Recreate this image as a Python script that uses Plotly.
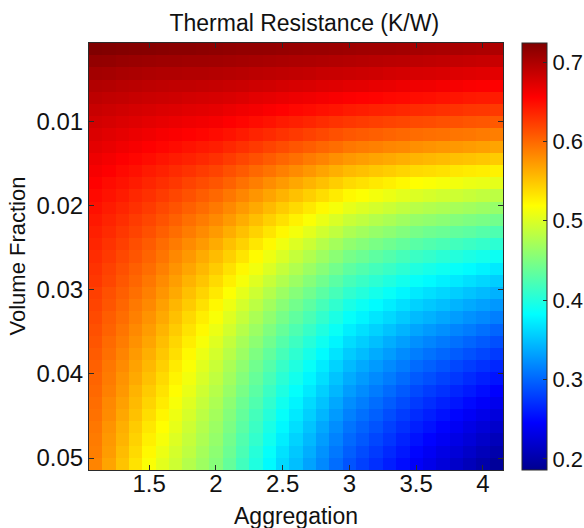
import plotly.graph_objects as go

# Aggregation (x) and volume fraction (y) sample points
aggregation = [1.1, 1.2, 1.3, 1.4, 1.5, 1.6, 1.7, 1.8, 1.9, 2.0, 2.1, 2.2, 2.3, 2.4, 2.5, 2.6,
               2.7, 2.8, 2.9, 3.0, 3.1, 3.2, 3.3, 3.4, 3.5, 3.6, 3.7, 3.8, 3.9, 4.0, 4.1]

volume_fraction = [0.00140, 0.00285, 0.00430, 0.00575, 0.00720, 0.00865, 0.01010, 0.01155,
                   0.01300, 0.01445, 0.01590, 0.01735, 0.01880, 0.02025, 0.02170, 0.02315,
                   0.02460, 0.02605, 0.02750, 0.02895, 0.03040, 0.03185, 0.03330, 0.03475,
                   0.03620, 0.03765, 0.03910, 0.04055, 0.04200, 0.04345, 0.04490, 0.04635,
                   0.04780, 0.04925, 0.05070]

# Thermal resistance (K/W), one row per volume fraction
resistance = [
    [0.724,0.723,0.722,0.721,0.720,0.719,0.718,0.718,0.717,0.716,0.715,0.714,0.714,0.713,0.712,0.711,0.710,0.710,0.709,0.708,0.707,0.706,0.706,0.705,0.704,0.703,0.702,0.702,0.701,0.700,0.699],
    [0.714,0.713,0.711,0.710,0.709,0.708,0.708,0.707,0.707,0.706,0.705,0.704,0.703,0.702,0.701,0.700,0.699,0.698,0.697,0.696,0.695,0.694,0.693,0.692,0.691,0.690,0.689,0.688,0.687,0.686,0.685],
    [0.705,0.704,0.702,0.701,0.699,0.698,0.698,0.697,0.697,0.696,0.695,0.694,0.692,0.691,0.690,0.689,0.688,0.686,0.685,0.684,0.683,0.682,0.680,0.679,0.678,0.677,0.676,0.674,0.673,0.672,0.671],
    [0.697,0.696,0.694,0.693,0.691,0.690,0.689,0.689,0.688,0.687,0.685,0.684,0.682,0.681,0.679,0.677,0.676,0.674,0.673,0.671,0.670,0.668,0.667,0.665,0.664,0.663,0.661,0.660,0.658,0.657,0.656],
    [0.691,0.689,0.688,0.686,0.684,0.683,0.682,0.680,0.679,0.678,0.676,0.674,0.671,0.669,0.667,0.665,0.663,0.661,0.659,0.657,0.655,0.654,0.652,0.651,0.649,0.648,0.646,0.645,0.643,0.642,0.641],
    [0.685,0.683,0.681,0.679,0.677,0.675,0.674,0.672,0.671,0.669,0.666,0.663,0.661,0.658,0.655,0.652,0.650,0.647,0.645,0.642,0.640,0.638,0.637,0.635,0.633,0.632,0.630,0.629,0.627,0.626,0.625],
    [0.680,0.678,0.675,0.673,0.670,0.668,0.666,0.664,0.662,0.660,0.656,0.653,0.649,0.646,0.642,0.639,0.636,0.632,0.629,0.626,0.624,0.622,0.620,0.618,0.616,0.615,0.613,0.612,0.610,0.609,0.608],
    [0.675,0.672,0.669,0.666,0.663,0.660,0.658,0.655,0.653,0.650,0.646,0.642,0.637,0.633,0.629,0.625,0.621,0.617,0.613,0.609,0.607,0.605,0.602,0.600,0.598,0.596,0.595,0.593,0.592,0.590,0.588],
    [0.670,0.667,0.663,0.660,0.656,0.653,0.650,0.646,0.643,0.640,0.635,0.630,0.625,0.620,0.615,0.610,0.606,0.601,0.597,0.592,0.589,0.587,0.584,0.582,0.579,0.577,0.575,0.574,0.572,0.570,0.568],
    [0.665,0.661,0.657,0.653,0.649,0.645,0.641,0.638,0.634,0.630,0.624,0.618,0.613,0.607,0.601,0.596,0.590,0.585,0.579,0.574,0.571,0.568,0.565,0.562,0.559,0.557,0.555,0.553,0.551,0.549,0.547],
    [0.660,0.656,0.651,0.647,0.642,0.638,0.633,0.629,0.624,0.620,0.613,0.607,0.600,0.594,0.587,0.581,0.575,0.568,0.562,0.556,0.553,0.549,0.546,0.542,0.539,0.537,0.535,0.532,0.530,0.528,0.526],
    [0.655,0.650,0.646,0.641,0.636,0.631,0.626,0.620,0.615,0.610,0.603,0.595,0.588,0.580,0.573,0.566,0.559,0.553,0.546,0.539,0.535,0.531,0.527,0.523,0.519,0.517,0.514,0.512,0.509,0.507,0.505],
    [0.651,0.646,0.641,0.635,0.630,0.624,0.618,0.612,0.606,0.600,0.592,0.584,0.576,0.568,0.560,0.552,0.545,0.537,0.530,0.522,0.518,0.513,0.509,0.504,0.500,0.497,0.494,0.492,0.489,0.486,0.483],
    [0.647,0.641,0.636,0.630,0.624,0.617,0.611,0.604,0.598,0.591,0.582,0.573,0.565,0.556,0.547,0.539,0.531,0.522,0.514,0.506,0.501,0.496,0.491,0.486,0.481,0.478,0.475,0.472,0.469,0.466,0.463],
    [0.643,0.637,0.631,0.624,0.618,0.611,0.604,0.596,0.589,0.582,0.573,0.563,0.554,0.544,0.535,0.526,0.517,0.508,0.499,0.490,0.485,0.479,0.474,0.468,0.463,0.460,0.457,0.453,0.450,0.447,0.444],
    [0.639,0.633,0.626,0.620,0.613,0.605,0.597,0.589,0.581,0.573,0.563,0.553,0.543,0.533,0.523,0.513,0.504,0.494,0.485,0.475,0.469,0.463,0.458,0.452,0.446,0.442,0.439,0.435,0.432,0.428,0.424],
    [0.636,0.629,0.622,0.614,0.607,0.598,0.590,0.581,0.573,0.564,0.553,0.543,0.532,0.522,0.511,0.501,0.491,0.480,0.470,0.460,0.454,0.448,0.442,0.436,0.430,0.426,0.422,0.418,0.414,0.410,0.406],
    [0.632,0.625,0.617,0.610,0.602,0.593,0.583,0.574,0.564,0.555,0.544,0.533,0.521,0.510,0.499,0.488,0.478,0.467,0.457,0.446,0.440,0.433,0.427,0.420,0.414,0.410,0.405,0.401,0.397,0.393,0.389],
    [0.629,0.621,0.613,0.605,0.597,0.587,0.577,0.567,0.557,0.547,0.535,0.523,0.512,0.500,0.488,0.477,0.466,0.455,0.444,0.433,0.426,0.419,0.413,0.406,0.399,0.394,0.390,0.385,0.381,0.376,0.371],
    [0.626,0.618,0.609,0.601,0.592,0.581,0.571,0.560,0.550,0.539,0.527,0.514,0.502,0.489,0.477,0.466,0.454,0.443,0.431,0.420,0.413,0.406,0.399,0.392,0.385,0.380,0.375,0.371,0.366,0.361,0.356],
    [0.622,0.613,0.605,0.596,0.587,0.576,0.565,0.553,0.542,0.531,0.518,0.505,0.492,0.479,0.466,0.454,0.443,0.431,0.420,0.408,0.401,0.393,0.386,0.378,0.371,0.366,0.361,0.356,0.351,0.346,0.341],
    [0.619,0.610,0.601,0.591,0.582,0.570,0.558,0.547,0.535,0.523,0.510,0.496,0.483,0.469,0.456,0.444,0.432,0.420,0.408,0.396,0.388,0.381,0.373,0.366,0.358,0.353,0.348,0.342,0.337,0.332,0.327],
    [0.616,0.606,0.597,0.587,0.577,0.565,0.553,0.540,0.528,0.516,0.502,0.488,0.474,0.460,0.446,0.434,0.422,0.409,0.397,0.385,0.377,0.369,0.362,0.354,0.346,0.341,0.335,0.330,0.324,0.319,0.314],
    [0.613,0.603,0.593,0.582,0.572,0.559,0.547,0.534,0.522,0.509,0.495,0.480,0.466,0.451,0.437,0.424,0.412,0.399,0.387,0.374,0.366,0.358,0.350,0.342,0.334,0.328,0.323,0.317,0.312,0.306,0.300],
    [0.610,0.599,0.589,0.578,0.567,0.554,0.541,0.528,0.515,0.502,0.487,0.472,0.458,0.443,0.428,0.415,0.402,0.390,0.377,0.364,0.356,0.348,0.339,0.331,0.323,0.317,0.311,0.306,0.300,0.294,0.288],
    [0.607,0.596,0.585,0.573,0.562,0.549,0.536,0.522,0.509,0.496,0.481,0.466,0.450,0.435,0.420,0.407,0.394,0.381,0.368,0.355,0.347,0.338,0.330,0.321,0.313,0.307,0.301,0.295,0.289,0.283,0.277],
    [0.604,0.592,0.581,0.569,0.557,0.544,0.530,0.517,0.503,0.490,0.474,0.459,0.443,0.428,0.412,0.399,0.386,0.372,0.359,0.346,0.337,0.329,0.320,0.312,0.303,0.297,0.291,0.284,0.278,0.272,0.266],
    [0.602,0.590,0.577,0.565,0.552,0.539,0.525,0.512,0.498,0.485,0.469,0.453,0.437,0.421,0.405,0.392,0.378,0.365,0.351,0.338,0.329,0.320,0.312,0.303,0.294,0.288,0.281,0.275,0.268,0.262,0.256],
    [0.600,0.587,0.574,0.560,0.547,0.534,0.520,0.507,0.493,0.480,0.464,0.447,0.431,0.414,0.398,0.384,0.371,0.357,0.344,0.330,0.321,0.312,0.303,0.294,0.285,0.278,0.272,0.265,0.259,0.252,0.245],
    [0.597,0.583,0.570,0.556,0.542,0.529,0.515,0.502,0.488,0.475,0.458,0.441,0.425,0.408,0.391,0.377,0.363,0.350,0.336,0.322,0.313,0.304,0.295,0.286,0.277,0.270,0.263,0.257,0.250,0.243,0.236],
    [0.595,0.581,0.566,0.552,0.537,0.524,0.510,0.497,0.483,0.470,0.453,0.436,0.419,0.402,0.385,0.371,0.357,0.343,0.329,0.315,0.306,0.297,0.287,0.278,0.269,0.262,0.255,0.248,0.241,0.234,0.227],
    [0.592,0.577,0.562,0.547,0.532,0.519,0.506,0.492,0.479,0.466,0.449,0.431,0.414,0.396,0.379,0.365,0.351,0.336,0.322,0.308,0.299,0.290,0.280,0.271,0.262,0.255,0.247,0.240,0.232,0.225,0.218],
    [0.590,0.574,0.559,0.543,0.527,0.514,0.501,0.488,0.475,0.462,0.444,0.426,0.409,0.391,0.373,0.359,0.345,0.330,0.316,0.302,0.293,0.283,0.274,0.264,0.255,0.247,0.240,0.232,0.225,0.217,0.209],
    [0.588,0.572,0.555,0.539,0.522,0.509,0.496,0.484,0.471,0.458,0.440,0.422,0.403,0.385,0.367,0.353,0.339,0.324,0.310,0.296,0.286,0.277,0.267,0.258,0.248,0.240,0.232,0.225,0.217,0.209,0.201],
    [0.585,0.568,0.551,0.534,0.517,0.504,0.492,0.479,0.467,0.454,0.436,0.417,0.399,0.380,0.362,0.348,0.333,0.319,0.304,0.290,0.280,0.271,0.261,0.252,0.242,0.234,0.226,0.217,0.209,0.201,0.192],
]

x_ticks = [1.5, 2, 2.5, 3, 3.5, 4]
y_ticks = [0.01, 0.02, 0.03, 0.04, 0.05]
cbar_ticks = [0.2, 0.3, 0.4, 0.5, 0.6, 0.7]
z_min, z_max = 0.186, 0.724

# MATLAB-style jet colormap
jet = [
    [0.000, "rgb(0,0,143)"],
    [0.111, "rgb(0,0,255)"],
    [0.365, "rgb(0,255,255)"],
    [0.619, "rgb(255,255,0)"],
    [0.873, "rgb(255,0,0)"],
    [1.000, "rgb(128,0,0)"],
]

FONT = "Liberation Sans, Arial, sans-serif"
AXIS_COLOR = "#2b2b2b"
TEXT_COLOR = "#111111"

# plot-area geometry in pixels
W, H = 584, 528
M_L, M_R, M_T, M_B = 89, 81, 43, 58
PLOT_W = W - M_L - M_R
PLOT_H = H - M_T - M_B

fig = go.Figure(
    go.Heatmap(
        x=aggregation,
        y=volume_fraction,
        z=resistance,
        zmin=z_min,
        zmax=z_max,
        colorscale=jet,
        colorbar=dict(
            x=1.046,
            xanchor="left",
            xpad=0,
            y=0.5,
            yanchor="middle",
            len=1.0,
            lenmode="fraction",
            thickness=25,
            thicknessmode="pixels",
            outlinewidth=1,
            outlinecolor=AXIS_COLOR,
            tickvals=cbar_ticks,
            ticks="inside",
            ticklen=4,
            tickcolor=AXIS_COLOR,
            tickfont=dict(family=FONT, size=22, color=TEXT_COLOR),
            ypad=0,
        ),
    )
)

fig.update_layout(
    width=W,
    height=H,
    margin=dict(l=M_L, r=M_R, t=M_T, b=M_B, autoexpand=False),
    paper_bgcolor="white",
    plot_bgcolor="white",
    font=dict(family=FONT, size=24, color=TEXT_COLOR),
    title=dict(
        text="Thermal Resistance (K/W)",
        x=0.52,
        xref="paper",
        xanchor="center",
        y=1 - 23 / H,
        yref="container",
        yanchor="middle",
        font=dict(family=FONT, size=23, color=TEXT_COLOR),
    ),
)

# axis titles placed as annotations at fixed pixel offsets from the plot area
fig.add_annotation(
    text="Aggregation",
    xref="paper", yref="paper",
    x=0.5, y=-(516 - (M_T + PLOT_H)) / PLOT_H,
    xanchor="center", yanchor="middle",
    showarrow=False,
    font=dict(family=FONT, size=23, color=TEXT_COLOR),
)
fig.add_annotation(
    text="Volume Fraction",
    xref="paper", yref="paper",
    x=(17 - M_L) / PLOT_W, y=0.5,
    xanchor="center", yanchor="middle",
    textangle=-90,
    showarrow=False,
    font=dict(family=FONT, size=22, color=TEXT_COLOR),
)

fig.update_xaxes(
    tickvals=x_ticks,
    ticks="inside",
    ticklen=5,
    tickcolor=AXIS_COLOR,
    showline=True,
    linecolor=AXIS_COLOR,
    linewidth=1,
    mirror="ticks",
    showgrid=False,
    zeroline=False,
    ticklabelstandoff=-8,
    tickfont=dict(size=24),
)

fig.update_yaxes(
    autorange="reversed",
    tickvals=y_ticks,
    tickformat=".2f",
    ticks="inside",
    ticklen=5,
    tickcolor=AXIS_COLOR,
    showline=True,
    linecolor=AXIS_COLOR,
    linewidth=1,
    mirror="ticks",
    showgrid=False,
    zeroline=False,
    ticklabelstandoff=0,
    tickfont=dict(size=24),
)

fig.write_html("out.html")
